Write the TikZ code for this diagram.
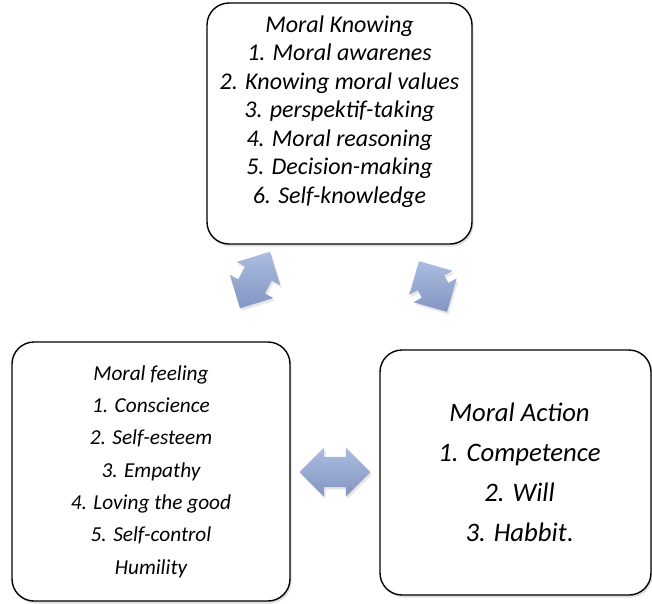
\documentclass[tikz,border=0pt]{standalone}
\usepackage{fontspec}
\setmainfont{Carlito}
\usetikzlibrary{shapes.arrows,shadows,calc}

\definecolor{arrowtop}{HTML}{ABBDDF}
\definecolor{arrowbot}{HTML}{8395C2}

\begin{document}
\begin{tikzpicture}[x=1pt, y=-1pt,
    box/.style={draw, rectangle, rounded corners=22pt, line width=1.4pt, fill=white, align=center,
        drop shadow={shadow xshift=1.5pt, shadow yshift=-2.5pt, opacity=0.25}},
    link/.style={double arrow, double arrow head extend=9.5pt, inner xsep=0pt, inner ysep=15pt,
        minimum width=0pt, top color=arrowtop, bottom color=arrowbot, draw=none,
        drop shadow={shadow xshift=1.5pt, shadow yshift=-2.5pt, opacity=0.2}}]
    \useasboundingbox (0,0) rectangle (652,603);

    % Nodes
    \node[box, minimum width=265pt, minimum height=241pt,
        font=\fontsize{24}{28.5}\selectfont\itshape] (knowing) at (339.5,123.5) {
        Moral Knowing\\
        1. Moral awarenes\\
        2. Knowing moral values\\
        3. perspektif-taking\\
        4. Moral reasoning\\
        5. Decision-making\\
        6. Self-knowledge\\
        \mbox{}
    };
    \node[box, minimum width=278pt, minimum height=259pt,
        font=\fontsize{21.3}{32.3}\selectfont\itshape] (feeling) at (151,471.5) {
        Moral feeling\\
        1. Conscience\\
        2. Self-esteem\\
        3. Empathy\\
        4. Loving the good\\
        5. Self-control\\
        Humility
    };
    \node[box, minimum width=271pt, minimum height=245pt,
        font=\fontsize{26.7}{40}\selectfont\itshape] (action) at (515.5,472.5) {
        \hspace*{8pt}Moral Action\\
        \hspace*{8pt}1. Competence\\
        \hspace*{8pt}2. Will\\
        \hspace*{8pt}3. Habbit{\upshape.}
    };

    % Arrows
    \node[link, minimum height=64pt, rotate=62] (knowfeel) at (255,280) {};
    \node[link, minimum height=58pt, rotate=-61] (knowact) at (433,286.5) {};
    \node[link, minimum height=71pt] (feelact)
        at ($(feeling.east)!0.5!(action.west)$) {};
\end{tikzpicture}
\end{document}
